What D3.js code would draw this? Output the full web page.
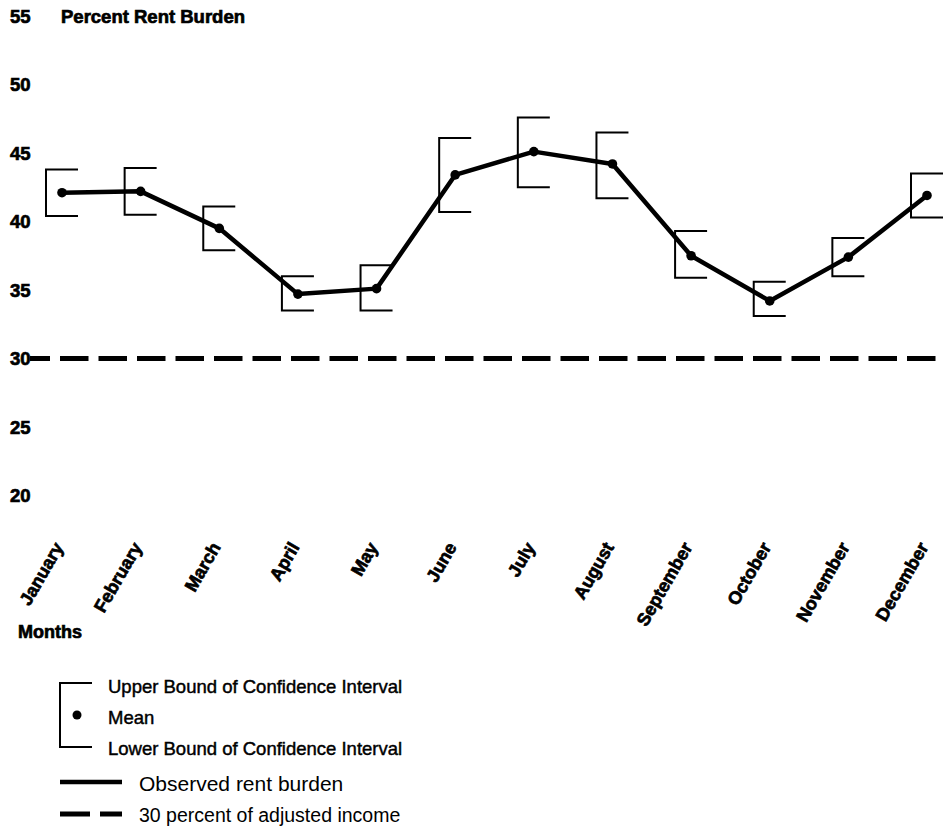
<!DOCTYPE html>
<html>
<head>
<meta charset="utf-8">
<script src="https://cdn.jsdelivr.net/npm/d3@7"></script>
<style>
  html, body { margin: 0; padding: 0; background: #fff; }
  svg { display: block; }
  .bold { font-family: "Liberation Sans", Arial, Helvetica, sans-serif; font-weight: bold; fill: #000; stroke: #000; stroke-width: 0.7px; }
  .reg { font-family: "Liberation Sans", Arial, Helvetica, sans-serif; fill: #000; }
</style>
</head>
<body>
<script>
// Monthly rent burden: mean and confidence interval bounds (percent of adjusted income)
const months = ["January", "February", "March", "April", "May", "June",
                "July", "August", "September", "October", "November", "December"];
const meanBurden  = [42.1, 42.2, 39.5, 34.7, 35.1, 43.4, 45.1, 44.2, 37.5, 34.2, 37.4, 41.9];
const upperBound  = [43.8, 43.9, 41.1, 36.0, 36.8, 46.1, 47.6, 46.5, 39.3, 35.6, 38.8, 43.5];
const lowerBound  = [40.4, 40.5, 37.9, 33.5, 33.5, 40.7, 42.5, 41.7, 35.9, 33.1, 36.0, 40.3];
const yTicks = [20, 25, 30, 35, 40, 45, 50, 55];
const threshold = 30;

const W = 947, H = 828;
const svg = d3.select("body").append("svg").attr("width", W).attr("height", H);

const x = d3.scalePoint().domain(months).range([62, 927]);
const y = d3.scaleLinear().domain([20, 55]).range([495.5, 16]);

// y-axis tick labels
svg.append("g").selectAll("text").data(yTicks).join("text")
  .attr("class", "bold")
  .attr("x", 10).attr("y", d => y(d)).attr("dy", "0.36em")
  .style("font-size", "18.5px")
  .text(d => d);

// axis title
svg.append("text").attr("class", "bold")
  .attr("x", 61).attr("y", y(55)).attr("dy", "0.36em")
  .style("font-size", "18.5px")
  .text("Percent Rent Burden");

// 30 percent threshold (dashed)
svg.append("line")
  .attr("x1", 30).attr("x2", 937)
  .attr("y1", y(threshold)).attr("y2", y(threshold))
  .attr("stroke", "#000").attr("stroke-width", 5)
  .attr("stroke-dasharray", "28.5,10").attr("stroke-dashoffset", 8.5);

// confidence interval brackets
const half = 16;
const data = months.map((m, i) => ({ m, mean: meanBurden[i], hi: upperBound[i], lo: lowerBound[i] }));
svg.append("g").selectAll("path").data(data).join("path")
  .attr("fill", "none").attr("stroke", "#000").attr("stroke-width", 2)
  .attr("d", d => {
    const cx = x(d.m);
    return `M${cx + half},${y(d.hi)}H${cx - half}V${y(d.lo)}H${cx + half}`;
  });

// observed rent burden line
svg.append("path").datum(data)
  .attr("fill", "none").attr("stroke", "#000").attr("stroke-width", 4.5)
  .attr("stroke-linejoin", "round")
  .attr("d", d3.line().x(d => x(d.m)).y(d => y(d.mean)));

svg.append("g").selectAll("circle").data(data).join("circle")
  .attr("cx", d => x(d.m)).attr("cy", d => y(d.mean)).attr("r", 4.8)
  .attr("fill", "#000");

// month labels
svg.append("g").selectAll("text").data(months).join("text")
  .attr("class", "bold")
  .attr("text-anchor", "end")
  .attr("transform", d => `translate(${x(d) + 2},${547}) rotate(-60)`)
  .style("font-size", "18px")
  .text(d => d);

svg.append("text").attr("class", "bold")
  .attr("x", 18).attr("y", 632).attr("dy", "0.36em")
  .style("font-size", "18px")
  .text("Months");

// legend
const lg = svg.append("g");
lg.append("path")
  .attr("fill", "none").attr("stroke", "#000").attr("stroke-width", 2)
  .attr("d", "M92,683H60V747H92");
lg.append("circle").attr("cx", 77).attr("cy", 715).attr("r", 4.5).attr("fill", "#000");

const ciLegend = [
  { label: "Upper Bound of Confidence Interval", cy: 686 },
  { label: "Mean", cy: 717 },
  { label: "Lower Bound of Confidence Interval", cy: 748 }
];
lg.selectAll("text.ci").data(ciLegend).join("text")
  .attr("class", "reg ci")
  .attr("x", 108).attr("y", d => d.cy).attr("dy", "0.36em")
  .style("font-size", "18.5px").attr("stroke", "#000").attr("stroke-width", 0.45)
  .text(d => d.label);

lg.append("line").attr("x1", 60).attr("x2", 122).attr("y1", 782).attr("y2", 782)
  .attr("stroke", "#000").attr("stroke-width", 4.5);
lg.append("line").attr("x1", 60).attr("x2", 122).attr("y1", 814).attr("y2", 814)
  .attr("stroke", "#000").attr("stroke-width", 5)
  .attr("stroke-dasharray", "30,10");

lg.append("text").attr("class", "reg")
  .attr("x", 139).attr("y", 783).attr("dy", "0.36em")
  .style("font-size", "21px")
  .text("Observed rent burden");
lg.append("text").attr("class", "reg")
  .attr("x", 139).attr("y", 815).attr("dy", "0.36em")
  .style("font-size", "19.5px")
  .text("30 percent of adjusted income");
</script>
</body>
</html>
